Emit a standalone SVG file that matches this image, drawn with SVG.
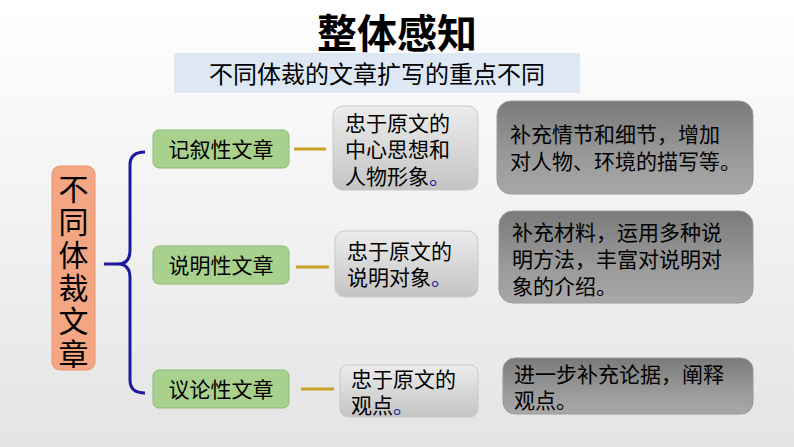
<svg xmlns="http://www.w3.org/2000/svg" width="794" height="447" viewBox="0 0 794 447">
<defs>
<linearGradient id="bg" x1="0" y1="0" x2="0" y2="1"><stop offset="0" stop-color="#ffffff"/><stop offset="1" stop-color="#e4e4e4"/></linearGradient>
<linearGradient id="lg" x1="0" y1="0" x2="0" y2="1"><stop offset="0" stop-color="#ececec"/><stop offset="1" stop-color="#c4c4c4"/></linearGradient>
<linearGradient id="dg" x1="0" y1="0" x2="0" y2="1"><stop offset="0" stop-color="#7a7a7a"/><stop offset="0.6" stop-color="#9a9a9a"/><stop offset="1" stop-color="#a8a8a8"/></linearGradient>
</defs>
<style>
text{font-family:"Noto Sans CJK SC","Liberation Sans",sans-serif;fill:#000}
.g{fill:#a9d18e;stroke:#8fb877;stroke-width:1}
.l{fill:url(#lg);stroke:#c8c8c8}
.d{fill:url(#dg);stroke:#999}
.t{font-size:21px}
.c{stroke:#c9a227;stroke-width:3}
</style>
<rect width="794" height="447" fill="url(#bg)"/>
<text x="397" y="48" font-size="40" font-weight="bold" text-anchor="middle">整体感知</text>
<rect x="174" y="53" width="406" height="40" fill="#dde8f4"/>
<text x="377" y="83" font-size="24" text-anchor="middle">不同体裁的文章扩写的重点不同</text>
<g id="root"><rect x="52" y="166" width="43" height="204" rx="8" fill="#f4a582" stroke="#e8956f"/>
<text x="73.5" y="0" font-size="30" text-anchor="middle"><tspan x="73.5" y="200">不</tspan><tspan x="73.5" y="233">同</tspan><tspan x="73.5" y="266">体</tspan><tspan x="73.5" y="299">裁</tspan><tspan x="73.5" y="332">文</tspan><tspan x="73.5" y="365">章</tspan></text></g>
<g id="connectors" fill="none">
<path d="M145,152 Q130,152 130,165 L130,250 Q130,264 118,264 L104,264 M118,264 Q130,264 130,278 L130,380 Q130,393 145,393" stroke="#1a1aa0" stroke-width="3"/>
<line class="c" x1="294" y1="149" x2="326" y2="149"/>
<line class="c" x1="296" y1="267" x2="329" y2="267"/>
<line class="c" x1="301" y1="389" x2="334" y2="389"/>
</g>
<g id="n1"><rect class="g" x="153" y="130" width="136" height="38" rx="6"/><text class="t" x="221" y="157" text-anchor="middle">记叙性文章</text></g>
<g id="n2"><rect class="g" x="153" y="246" width="136" height="38" rx="6"/><text class="t" x="221" y="273" text-anchor="middle">说明性文章</text></g>
<g id="n3"><rect class="g" x="153" y="370" width="136" height="38" rx="6"/><text class="t" x="221" y="397" text-anchor="middle">议论性文章</text></g>
<g id="m1"><rect class="l" x="333" y="106" width="145" height="84" rx="10"/><text class="t"><tspan x="345" y="131">忠于原文的</tspan><tspan x="345" y="157">中心思想和</tspan><tspan x="345" y="184">人物形象<tspan fill="#1a1aa0">。</tspan></tspan></text></g>
<g id="m2"><rect class="l" x="335" y="231" width="143" height="66" rx="10"/><text class="t"><tspan x="347" y="259">忠于原文的</tspan><tspan x="347" y="285">说明对象<tspan fill="#1a1aa0">。</tspan></tspan></text></g>
<g id="m3"><rect class="l" x="340" y="365" width="138" height="52" rx="8"/><text class="t"><tspan x="351" y="387">忠于原文的</tspan><tspan x="351" y="413">观点<tspan fill="#1a1aa0">。</tspan></tspan></text></g>
<g id="d1"><rect class="d" x="497" y="101" width="256" height="93" rx="14"/><text class="t"><tspan x="510" y="142">补充情节和细节，增加</tspan><tspan x="510" y="169">对人物、环境的描写等。</tspan></text></g>
<g id="d2"><rect class="d" x="499" y="211" width="254" height="92" rx="14"/><text class="t"><tspan x="512" y="240">补充材料，运用多种说</tspan><tspan x="512" y="267">明方法，丰富对说明对</tspan><tspan x="512" y="294">象的介绍。</tspan></text></g>
<g id="d3"><rect class="d" x="503" y="358" width="250" height="56" rx="12"/><text class="t"><tspan x="514" y="382">进一步补充论据，阐释</tspan><tspan x="514" y="408">观点。</tspan></text></g>
</svg>
